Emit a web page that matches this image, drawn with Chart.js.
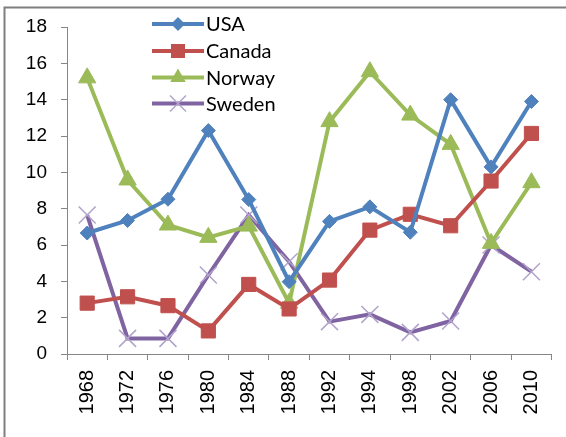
<!DOCTYPE html>
<html><head><meta charset="utf-8">
<script src="https://cdn.jsdelivr.net/npm/chart.js@4/dist/chart.umd.min.js"></script>
<style>html,body{margin:0;padding:0;background:#fff;overflow:hidden}</style>
</head><body>
<canvas id="c" width="566" height="437"></canvas>
<script>
const years = ['1968','1972','1976','1980','1984','1988','1992','1994','1998','2002','2006','2010'];
const usa    = [6.66, 7.35, 8.52, 12.3, 8.5, 3.98, 7.3, 8.1, 6.7, 14.0, 10.3, 13.9];
const canada = [2.8, 3.15, 2.66, 1.27, 3.83, 2.48, 4.07, 6.82, 7.69, 7.06, 9.52, 12.14];
const norway = [15.2, 9.58, 7.1, 6.42, 7.04, 2.8, 12.79, 15.54, 13.15, 11.54, 6.09, 9.43];
const sweden = [7.65, 0.86, 0.86, 4.35, 7.65, 5.08, 1.78, 2.18, 1.19, 1.82, 6.0, 4.53];
const yTicks = [0, 2, 4, 6, 8, 10, 12, 14, 16, 18];

const C_USA = '#4F81BD', C_CAN = '#C0504D', C_NOR = '#9BBB59', C_SWE = '#8064A2', C_SWE_M = '#B1A3CC';

function ds(label, data, color, style, radius, pColor, pBorder) {
  return {
    label, data, borderColor: color, backgroundColor: pColor || color,
    borderWidth: 4, tension: 0, pointStyle: style, pointRadius: radius, pointHoverRadius: radius,
    pointBackgroundColor: pColor || color, pointBorderColor: pColor || color, pointBorderWidth: pBorder || 1
  };
}

const frame = {
  id: 'frame',
  afterDraw(chart) {
    const ctx = chart.ctx;
    ctx.save();
    ctx.strokeStyle = '#7f7f7f';
    ctx.lineWidth = 2;
    ctx.beginPath();
    ctx.moveTo(4.5, 437); ctx.lineTo(4.5, 7.5); ctx.lineTo(566, 7.5);
    ctx.stroke();
    const ys = [24, 51, 77.5, 103.5];
    chart.data.datasets.forEach((d, i) => {
      const y = ys[i];
      ctx.strokeStyle = d.borderColor; ctx.lineWidth = 4;
      ctx.beginPath(); ctx.moveTo(152, y); ctx.lineTo(204, y); ctx.stroke();
      const x = 178;
      ctx.fillStyle = d.pointBackgroundColor; ctx.strokeStyle = d.pointBorderColor;
      ctx.lineWidth = d.pointBorderWidth;
      ctx.beginPath();
      if (d.pointStyle === 'rectRot') {
        const r = 7; ctx.moveTo(x - r, y); ctx.lineTo(x, y - r); ctx.lineTo(x + r, y); ctx.lineTo(x, y + r); ctx.closePath(); ctx.fill();
      } else if (d.pointStyle === 'rect') {
        const s = 7; ctx.rect(x - s, y - s, 2 * s, 2 * s); ctx.fill();
      } else if (d.pointStyle === 'triangle') {
        const r = 9; ctx.moveTo(x, y - r); ctx.lineTo(x + r * 0.866, y + r * 0.5); ctx.lineTo(x - r * 0.866, y + r * 0.5); ctx.closePath(); ctx.fill();
      } else {
        const s = 8; ctx.moveTo(x - s, y - s); ctx.lineTo(x + s, y + s); ctx.moveTo(x + s, y - s); ctx.lineTo(x - s, y + s); ctx.stroke();
      }
      ctx.fillStyle = '#000';
      ctx.font = '20px Lato';
      ctx.textBaseline = 'middle';
      ctx.textAlign = 'left';
      ctx.fillText(d.label, 206, y + 1);
    });
    ctx.restore();
  }
};

new Chart(document.getElementById('c'), {
  type: 'line',
  data: {
    labels: years,
    datasets: [
      ds('USA', usa, C_USA, 'rectRot', 7),
      ds('Canada', canada, C_CAN, 'rect', 10),
      ds('Norway', norway, C_NOR, 'triangle', 10),
      ds('Sweden', sweden, C_SWE, 'crossRot', 12, C_SWE_M, 1.5)
    ]
  },
  options: {
    responsive: false, devicePixelRatio: 1, animation: false,
    layout: { padding: { left: 0, right: 11, top: 27, bottom: 0 } },
    plugins: { legend: { display: false }, tooltip: { enabled: false } },
    scales: {
      x: {
        offset: true,
        grid: { display: true, drawOnChartArea: false, offset: true, color: '#868686', tickLength: 6, lineWidth: 1 },
        border: { display: true, color: '#868686', width: 1 },
        ticks: { color: '#000', font: { family: 'Liberation Sans', size: 20 }, minRotation: 90, maxRotation: 90, padding: 10, autoSkip: false },
        afterFit(s) { s.height = 83; }
      },
      y: {
        min: 0, max: 18,
        afterBuildTicks(s) { s.ticks = yTicks.map(v => ({ value: v })); },
        grid: { display: true, drawOnChartArea: false, color: '#868686', tickLength: 6, lineWidth: 1 },
        border: { display: true, color: '#868686', width: 1 },
        ticks: { color: '#000', font: { family: 'Liberation Sans', size: 19 }, padding: 14 },
        afterFit(s) { s.width = 67; }
      }
    }
  },
  plugins: [frame]
});
</script>
</body></html>
